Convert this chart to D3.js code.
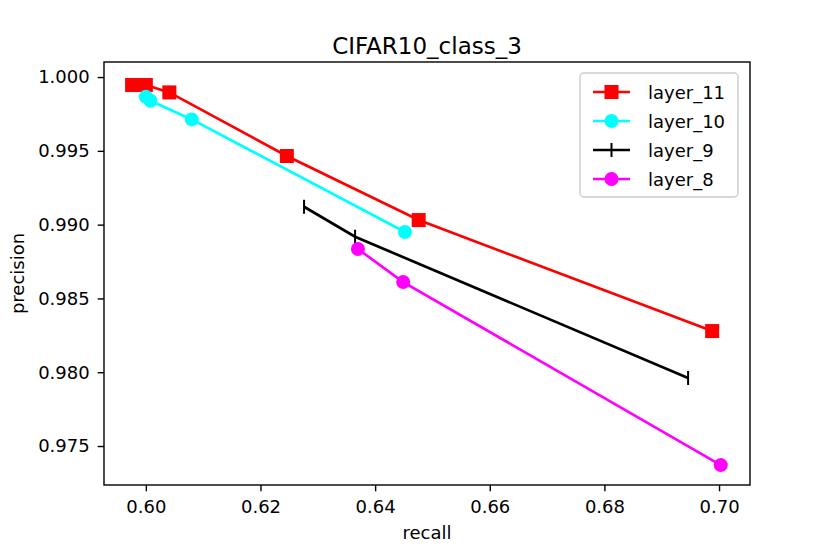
<!DOCTYPE html>
<html>
<head>
<meta charset="utf-8">
<script src="https://cdn.jsdelivr.net/npm/d3@7"></script>
<style>
	body { margin: 0; background: #fff; }
	text { font-family: "DejaVu Sans", sans-serif; fill: #000; }
</style>
</head>
<body>
<svg id="chart" width="830" height="554"></svg>
<script>
// values
var seriesNames = ['layer_11', 'layer_10', 'layer_9', 'layer_8'];
var seriesColors = ['#ff0000', '#00ffff', '#000000', '#ff00ff'];
var seriesMarkers = ['square', 'circle', 'vline', 'circle'];

var recall11 = [0.5976, 0.6000, 0.6041, 0.6246, 0.6476, 0.6988];
var precision11 = [0.99946, 0.99946, 0.99896, 0.99465, 0.99031, 0.98279];

var recall10 = [0.6000, 0.6008, 0.6080, 0.6452];
var precision10 = [0.99867, 0.99839, 0.99713, 0.98950];

var recall9 = [0.6276, 0.6365, 0.6946];
var precision9 = [0.99121, 0.98918, 0.97961];

var recall8 = [0.6370, 0.6449, 0.7003];
var precision8 = [0.98835, 0.98611, 0.97371];

var xTicks = [0.60, 0.62, 0.64, 0.66, 0.68, 0.70];
var yTicks = [1.000, 0.995, 0.990, 0.985, 0.980, 0.975];

var series = [
	{ x: recall11, y: precision11 },
	{ x: recall10, y: precision10 },
	{ x: recall9, y: precision9 },
	{ x: recall8, y: precision8 }
].map((s, i) => ({
	name: seriesNames[i],
	color: seriesColors[i],
	marker: seriesMarkers[i],
	points: s.x.map((v, j) => [v, s.y[j]])
}));

var svg = d3.select('#chart');
var plotLeft = 104, plotRight = 750, plotTop = 62, plotBottom = 485;

var x = d3.scaleLinear().domain([0.5927, 0.7054]).range([plotLeft, plotRight]);
var y = d3.scaleLinear().domain([0.97236, 1.00102]).range([plotBottom, plotTop]);

// series
var line = d3.line().x(d => x(d[0])).y(d => y(d[1]));

function drawMarker(g, type, color, cx, cy) {
	if (type === 'square') {
		g.append('rect')
			.attr('x', cx - 7).attr('y', cy - 7)
			.attr('width', 14).attr('height', 14)
			.attr('fill', color);
	} else if (type === 'circle') {
		g.append('circle')
			.attr('cx', cx).attr('cy', cy).attr('r', 7)
			.attr('fill', color);
	} else {
		g.append('line')
			.attr('x1', cx).attr('x2', cx)
			.attr('y1', cy - 7).attr('y2', cy + 7)
			.attr('stroke', color).attr('stroke-width', 2);
	}
}

var plot = svg.append('g');
series.forEach(s => {
	var g = plot.append('g');
	g.append('path')
		.attr('d', line(s.points))
		.attr('fill', 'none')
		.attr('stroke', s.color)
		.attr('stroke-width', 2.7);
	s.points.forEach(p => drawMarker(g, s.marker, s.color, x(p[0]), y(p[1])));
});

// axes frame
svg.append('rect')
	.attr('x', plotLeft).attr('y', plotTop)
	.attr('width', plotRight - plotLeft).attr('height', plotBottom - plotTop)
	.attr('fill', 'none').attr('stroke', '#000').attr('stroke-width', 1.4);

var xAxis = svg.append('g')
	.attr('transform', `translate(0,${plotBottom})`)
	.call(d3.axisBottom(x).tickValues(xTicks).tickFormat(d3.format('.2f')).tickSizeInner(6.3).tickSizeOuter(0).tickPadding(9));
var yAxis = svg.append('g')
	.attr('transform', `translate(${plotLeft},0)`)
	.call(d3.axisLeft(y).tickValues(yTicks).tickFormat(d3.format('.3f')).tickSizeInner(6.3).tickSizeOuter(0).tickPadding(8));

[xAxis, yAxis].forEach(a => {
	a.select('.domain').remove();
	a.selectAll('line').attr('stroke', '#000').attr('stroke-width', 1.4);
	a.selectAll('text').style('font-size', '18px').style('font-family', '"DejaVu Sans", sans-serif');
});

// labels
svg.append('text')
	.attr('x', (plotLeft + plotRight) / 2).attr('y', 54)
	.attr('text-anchor', 'middle')
	.style('font-size', '23px')
	.text('CIFAR10_class_3');

svg.append('text')
	.attr('x', (plotLeft + plotRight) / 2).attr('y', 539)
	.attr('text-anchor', 'middle')
	.style('font-size', '18px')
	.text('recall');

svg.append('text')
	.attr('transform', `translate(24,${(plotTop + plotBottom) / 2}) rotate(-90)`)
	.attr('text-anchor', 'middle')
	.style('font-size', '18px')
	.text('precision');

// legend
var legend = svg.append('g').attr('transform', 'translate(580,73)');
legend.append('rect')
	.attr('width', 158).attr('height', 124)
	.attr('rx', 4)
	.attr('fill', '#fff').attr('fill-opacity', 0.8)
	.attr('stroke', '#cccccc').attr('stroke-width', 1.4);

series.forEach((s, i) => {
	var row = legend.append('g').attr('transform', `translate(0,${19 + i * 29})`);
	row.append('line')
		.attr('x1', 13).attr('x2', 50)
		.attr('stroke', s.color).attr('stroke-width', 2.7);
	drawMarker(row, s.marker, s.color, 31.5, 0);
	row.append('text')
		.attr('x', 68).attr('y', 6.5)
		.style('font-size', '18px')
		.text(s.name);
});
</script>
</body>
</html>
